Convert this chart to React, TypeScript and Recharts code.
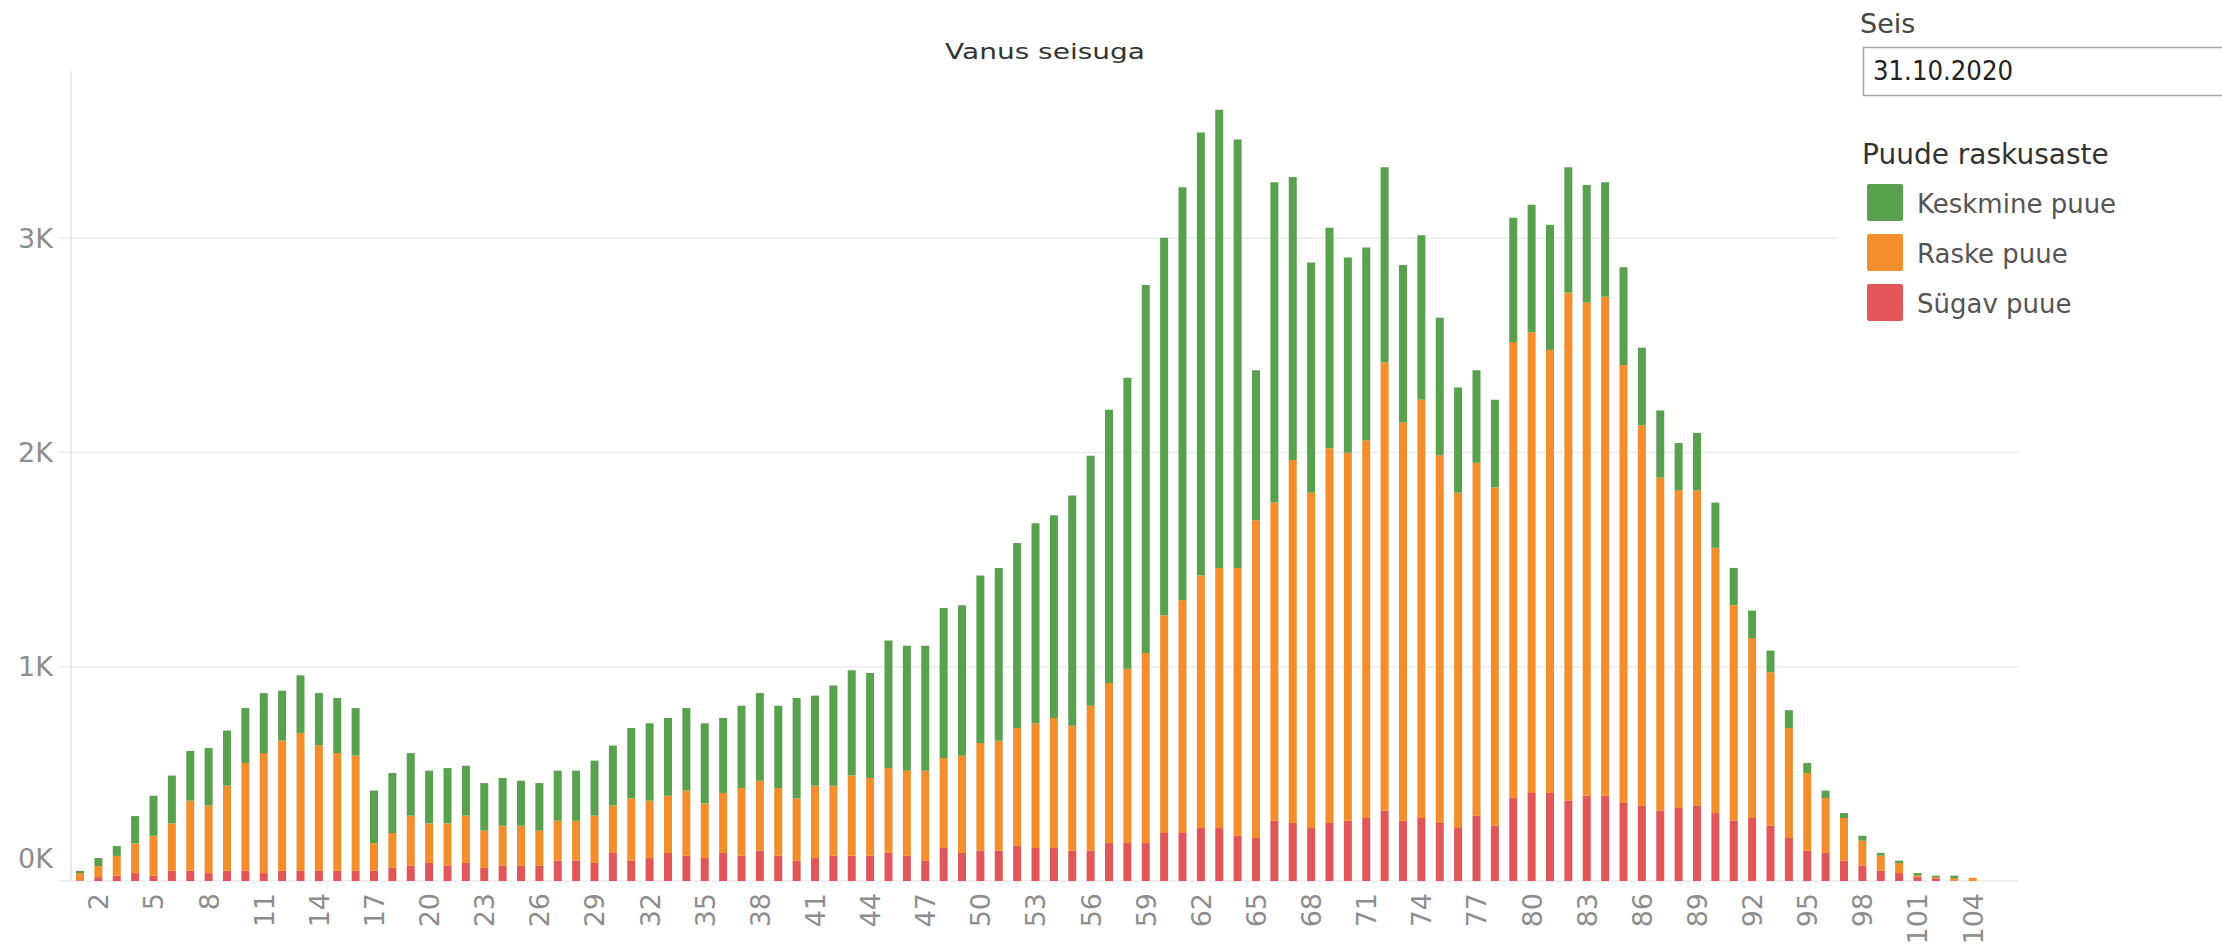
import React from 'react';
import { BarChart, Bar, XAxis, YAxis, CartesianGrid } from 'recharts';

const ages: number[] = [
  1, 2, 3, 4, 5, 6, 7, 8, 9, 10, 11, 12, 13, 14, 15, 16, 17, 18, 19, 20,
  21, 22, 23, 24, 25, 26, 27, 28, 29, 30, 31, 32, 33, 34, 35, 36, 37, 38, 39, 40,
  41, 42, 43, 44, 45, 46, 47, 48, 49, 50, 51, 52, 53, 54, 55, 56, 57, 58, 59, 60,
  61, 62, 63, 64, 65, 66, 67, 68, 69, 70, 71, 72, 73, 74, 75, 76, 77, 78, 79, 80,
  81, 82, 83, 84, 85, 86, 87, 88, 89, 90, 91, 92, 93, 94, 95, 96, 97, 98, 99, 100,
  101, 102, 103, 104,
];

// Sügav puue (bottom)
const sugav: number[] = [
  3, 18, 25, 37, 25, 48, 48, 37, 48, 48,
  37, 48, 48, 48, 48, 48, 48, 61, 71, 84,
  71, 84, 61, 71, 71, 71, 95, 95, 84, 131,
  95, 107, 131, 118, 107, 131, 118, 141, 118, 95,
  107, 118, 118, 118, 131, 118, 95, 154, 131, 141,
  141, 165, 154, 154, 141, 141, 177, 177, 177, 224,
  224, 247, 247, 211, 201, 281, 271, 247, 271, 281,
  294, 328, 281, 294, 271, 247, 305, 258, 387, 411,
  411, 375, 398, 398, 364, 351, 328, 341, 351, 317,
  281, 294, 258, 201, 141, 131, 95, 71, 48, 37,
  18, 13, 3, 0,
];

// Raske puue (middle)
const raske: number[] = [
  34, 52, 92, 139, 186, 221, 327, 315, 397, 503,
  560, 607, 643, 585, 549, 537, 129, 163, 234, 185,
  198, 221, 174, 187, 187, 164, 186, 186, 221, 221,
  291, 268, 267, 304, 255, 280, 316, 327, 316, 291,
  338, 327, 374, 363, 396, 397, 420, 420, 454, 503,
  514, 549, 582, 607, 584, 677, 747, 814, 887, 1016,
  1086, 1179, 1214, 1250, 1482, 1485, 1694, 1565, 1749, 1717,
  1763, 2093, 1859, 1952, 1716, 1565, 1647, 1578, 2128, 2150,
  2067, 2371, 2302, 2328, 2044, 1776, 1554, 1482, 1472, 1238,
  1006, 840, 716, 513, 363, 256, 199, 117, 70, 47,
  7, 5, 11, 15,
];

// Keskmine puue (top)
const keskmine: number[] = [
  10, 37, 46, 127, 187, 223, 232, 269, 257, 256,
  280, 233, 269, 244, 257, 222, 245, 280, 292, 246,
  258, 233, 222, 223, 210, 222, 234, 234, 257, 280,
  328, 361, 363, 385, 374, 350, 384, 409, 384, 468,
  420, 467, 491, 490, 595, 583, 583, 700, 702, 782,
  806, 863, 934, 946, 1074, 1167, 1275, 1358, 1717, 1762,
  1927, 2067, 2138, 1999, 701, 1495, 1320, 1074, 1029, 912,
  899, 910, 735, 768, 641, 491, 432, 410, 580, 595,
  584, 585, 548, 535, 456, 362, 314, 221, 268, 211,
  174, 128, 101, 83, 47, 35, 23, 23, 13, 11,
  12, 7, 11, 0,
];

const yTicks: number[] = [0, 1000, 2000, 3000];
const xLabelAges: number[] = [2, 5, 8, 11, 14, 17, 20, 23, 26, 29, 32, 35, 38, 41, 44, 47, 50, 53, 56, 59, 62, 65, 68, 71, 74, 77, 80, 83, 86, 89, 92, 95, 98, 101, 104];

const seriesNames: string[] = ['Keskmine puue', 'Raske puue', 'Sügav puue'];
const seriesColors: string[] = ['#59A14F', '#F28E2B', '#E15759'];

const titleText = 'Vanus seisuga';
const filterLabel = 'Seis';
const filterValue = '31.10.2020';
const legendTitle = 'Puude raskusaste';

const data = ages.map((age, i) => ({
  age,
  sugav: sugav[i],
  raske: raske[i],
  keskmine: keskmine[i],
}));

const FONT = "'DejaVu Sans', 'Noto Sans', sans-serif";
const AXIS_GREY = '#8d8d8d';

const YTick = (props: any) => {
  const { x, y, payload } = props;
  const v = payload.value as number;
  const yy = v === 0 ? y - 23 : y;
  return (
    <text x={x} y={yy} dy="0.36em" textAnchor="end" fontSize={27} fill={AXIS_GREY} fontFamily={FONT}>
      {`${v / 1000}K`}
    </text>
  );
};

const XTick = (props: any) => {
  const { x, y, payload } = props;
  const v = payload.value as number;
  if (!xLabelAges.includes(v)) return <g />;
  return (
    <text
      x={x}
      y={y}
      dy="0.36em"
      textAnchor="end"
      transform={`rotate(-90, ${x}, ${y})`}
      fontSize={27}
      fill={AXIS_GREY}
      fontFamily={FONT}
    >
      {String(v)}
    </text>
  );
};

export default function App() {
  return (
    <div style={{ position: 'absolute', left: 0, top: 0, width: 2222, height: 945, background: '#ffffff', overflow: 'hidden' }}>
      <div style={{ position: 'absolute', left: 0, top: 0 }}>
        <BarChart
          width={2222}
          height={945}
          data={data}
          margin={{ top: 71, right: 203, bottom: 0, left: 0 }}
          barSize={8}
        >
          <CartesianGrid vertical={false} horizontalValues={yTicks} stroke="#ececec" strokeWidth={1.5} />
          <XAxis
            dataKey="age"
            type="category"
            interval={0}
            tickLine={false}
            axisLine={false}
            tickSize={12}
            tickMargin={0}
            height={64}
            padding={{ left: 0, right: 37 }}
            tick={<XTick />}
          />
          <YAxis
            type="number"
            domain={[0, 3780]}
            ticks={yTicks}
            interval={0}
            width={71}
            tickSize={12}
            tickMargin={6}
            axisLine={{ stroke: '#e2e2e2', strokeWidth: 1.5 }}
            tickLine={{ stroke: '#ececec', strokeWidth: 1.5 }}
            tick={<YTick />}
          />
          <Bar dataKey="sugav" name={seriesNames[2]} stackId="a" fill={seriesColors[2]} isAnimationActive={false} />
          <Bar dataKey="raske" name={seriesNames[1]} stackId="a" fill={seriesColors[1]} isAnimationActive={false} />
          <Bar dataKey="keskmine" name={seriesNames[0]} stackId="a" fill={seriesColors[0]} isAnimationActive={false} />
        </BarChart>
      </div>
      <svg
        width={2222}
        height={945}
        style={{ position: 'absolute', left: 0, top: 0, pointerEvents: 'none' }}
      >
        <text x={1045} y={59} textAnchor="middle" fontSize={22} fill="#333333" fontFamily={FONT} textLength={200} lengthAdjust="spacingAndGlyphs">
          {titleText}
        </text>
        <rect x={1838} y={0} width={384} height={335} fill="#ffffff" />
        <text x={1860} y={33} fontSize={27} fill="#444444" fontFamily={FONT}>{filterLabel}</text>
        <rect x={1863.5} y={47.5} width={400} height={48} fill="#ffffff" stroke="#a6a6a6" strokeWidth={1.5} />
        <text x={1873} y={80} fontSize={26} fill="#222222" fontFamily={FONT} textLength={140} lengthAdjust="spacingAndGlyphs">{filterValue}</text>
        <text x={1862} y={164} fontSize={28} fill="#333333" fontFamily={FONT}>{legendTitle}</text>
        {seriesNames.map((name, i) => (
          <g key={name}>
            <rect x={1867} y={184 + i * 50} width={36} height={37} rx={2} fill={seriesColors[i]} />
            <text x={1917} y={213 + i * 50} fontSize={26} fill="#555555" fontFamily={FONT}>{name}</text>
          </g>
        ))}
      </svg>
    </div>
  );
}
